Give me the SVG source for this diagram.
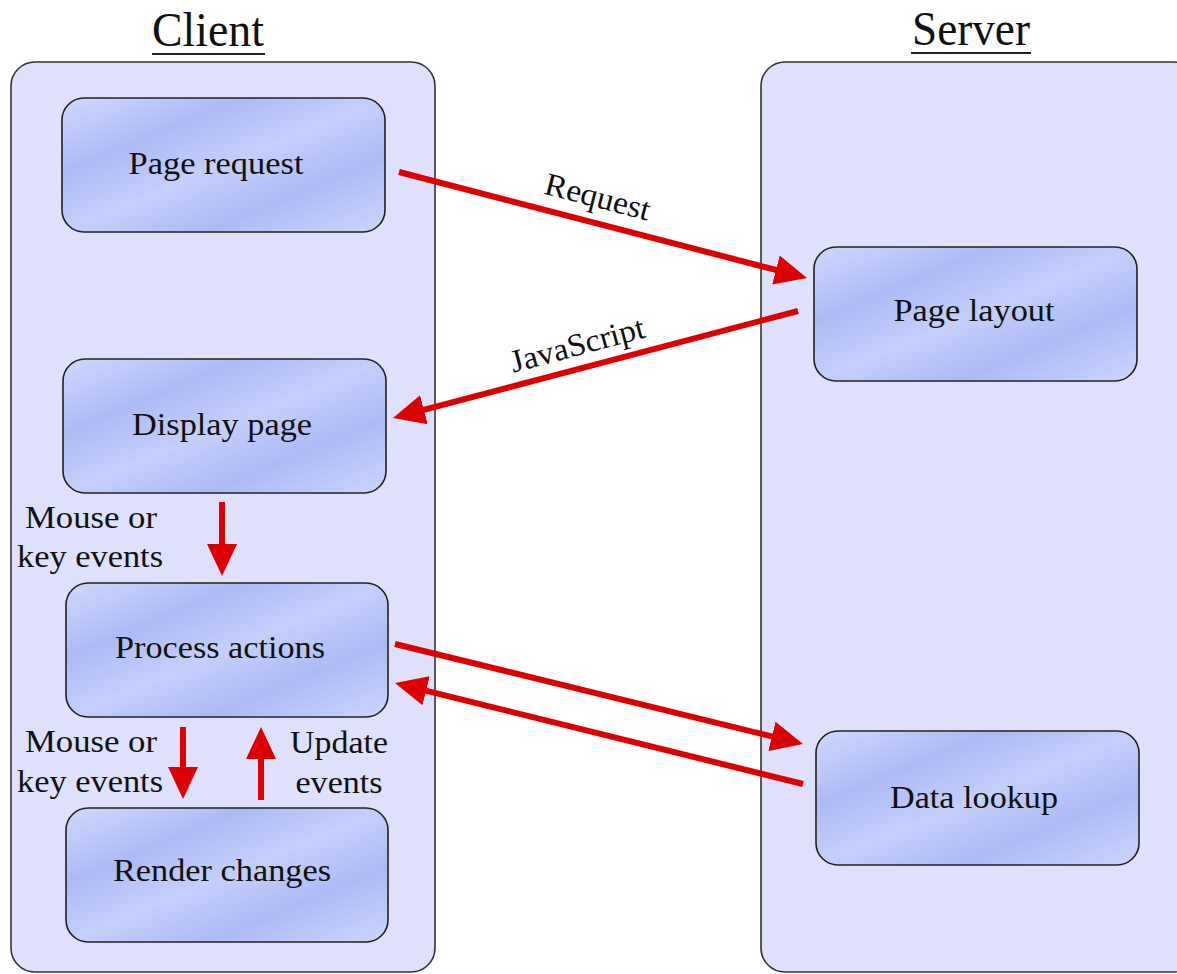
<svg xmlns="http://www.w3.org/2000/svg" width="1177" height="974" viewBox="0 0 1177 974">
<defs>
<linearGradient id="nodeGrad" x1="0" y1="0" x2="1" y2="1">
<stop offset="0" stop-color="#cfd9fc"/>
<stop offset="0.28" stop-color="#adbbf5"/>
<stop offset="0.5" stop-color="#c4cffa"/>
<stop offset="0.72" stop-color="#adbbf5"/>
<stop offset="1" stop-color="#cbd6fb"/>
</linearGradient>
<marker id="head" markerUnits="userSpaceOnUse" markerWidth="32" markerHeight="32" viewBox="0 0 32 32" refX="15" refY="16" orient="auto">
<path d="M0,1 L32,16 L0,31 z" fill="#dd0000"/>
</marker>
</defs>
<style>
.bg{fill:#ffffff}
.container{fill:#dee0fc;stroke:#333333;stroke-width:1.6}
.node{fill:url(#nodeGrad);stroke:#222222;stroke-width:1.6}
.title{font-family:"Liberation Serif",serif;font-size:48px;fill:#111111;text-anchor:middle}
.uline{stroke:#222222;stroke-width:2.2}
.label{font-family:"Liberation Serif",serif;font-size:32px;fill:#111111;text-anchor:middle}
.conn{stroke:#dd0000;stroke-width:6;fill:none;marker-end:url(#head)}
</style>
<rect class="bg" x="0" y="0" width="1177" height="974"/>

<g id="client-lane">
<rect class="container" x="11" y="62" width="424" height="910" rx="24" ry="24"/>
<text class="title" x="208" y="46" textLength="112" lengthAdjust="spacingAndGlyphs">Client</text>
<line class="uline" x1="152" y1="54" x2="265" y2="54"/>
</g>

<g id="server-lane">
<rect class="container" x="761" y="62" width="436" height="910" rx="24" ry="24"/>
<text class="title" x="971" y="45" textLength="118" lengthAdjust="spacingAndGlyphs">Server</text>
<line class="uline" x1="911" y1="53" x2="1031" y2="53"/>
</g>

<g id="node-page-request">
<rect class="node" x="62" y="98" width="323" height="134" rx="22" ry="22"/>
<text class="label" x="216" y="174" textLength="175" lengthAdjust="spacingAndGlyphs">Page request</text>
</g>

<g id="node-display-page">
<rect class="node" x="63" y="359" width="323" height="134" rx="22" ry="22"/>
<text class="label" x="222" y="435" textLength="180" lengthAdjust="spacingAndGlyphs">Display page</text>
</g>

<g id="node-process-actions">
<rect class="node" x="66" y="583" width="322" height="134" rx="22" ry="22"/>
<text class="label" x="220" y="658" textLength="210" lengthAdjust="spacingAndGlyphs">Process actions</text>
</g>

<g id="node-render-changes">
<rect class="node" x="66" y="808" width="322" height="134" rx="22" ry="22"/>
<text class="label" x="222" y="881" textLength="218" lengthAdjust="spacingAndGlyphs">Render changes</text>
</g>

<g id="node-page-layout">
<rect class="node" x="814" y="247" width="323" height="134" rx="22" ry="22"/>
<text class="label" x="974" y="321" textLength="161" lengthAdjust="spacingAndGlyphs">Page layout</text>
</g>

<g id="node-data-lookup">
<rect class="node" x="816" y="731" width="323" height="134" rx="22" ry="22"/>
<text class="label" x="974" y="808" textLength="168" lengthAdjust="spacingAndGlyphs">Data lookup</text>
</g>

<g id="connectors">
<line class="conn" x1="399" y1="172" x2="790.5" y2="273.7"/>
<line class="conn" x1="798" y1="311" x2="409.4" y2="413.7"/>
<line class="conn" x1="222" y1="502" x2="222" y2="559"/>
<line class="conn" x1="395" y1="644" x2="786.5" y2="740"/>
<line class="conn" x1="803" y1="784" x2="411.5" y2="687.1"/>
<line class="conn" x1="183" y1="727" x2="183" y2="782"/>
<line class="conn" x1="261" y1="800" x2="261" y2="744"/>
</g>

<g id="connector-labels">
<text class="label" x="0" y="0" transform="translate(595,207) rotate(14.6)" textLength="108" lengthAdjust="spacingAndGlyphs">Request</text>
<text class="label" x="0" y="0" transform="translate(580,355) rotate(-15)" textLength="138" lengthAdjust="spacingAndGlyphs">JavaScript</text>
<text class="label" x="91" y="528" textLength="132" lengthAdjust="spacingAndGlyphs">Mouse or</text>
<text class="label" x="90" y="567" textLength="146" lengthAdjust="spacingAndGlyphs">key events</text>
<text class="label" x="91" y="752" textLength="132" lengthAdjust="spacingAndGlyphs">Mouse or</text>
<text class="label" x="90" y="792" textLength="146" lengthAdjust="spacingAndGlyphs">key events</text>
<text class="label" x="339" y="753" textLength="98" lengthAdjust="spacingAndGlyphs">Update</text>
<text class="label" x="339" y="793" textLength="87" lengthAdjust="spacingAndGlyphs">events</text>
</g>
</svg>
